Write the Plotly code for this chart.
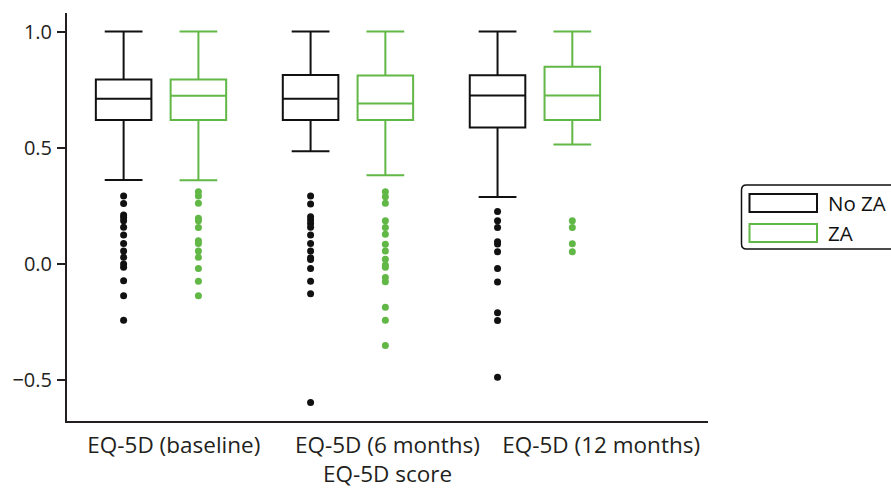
import plotly.graph_objects as go

# ---------------- data ----------------
groups = ["EQ-5D (baseline)", "EQ-5D (6 months)", "EQ-5D (12 months)"]

noza_q1 = [0.619, 0.619, 0.586]
noza_median = [0.710, 0.710, 0.724]
noza_q3 = [0.793, 0.813, 0.812]
noza_lower = [0.360, 0.484, 0.287]
noza_upper = [1.0, 1.0, 1.0]

za_q1 = [0.619, 0.619, 0.619]
za_median = [0.723, 0.690, 0.724]
za_q3 = [0.793, 0.811, 0.848]
za_lower = [0.359, 0.381, 0.513]
za_upper = [1.0, 1.0, 1.0]

noza_outliers = [
    [0.291, 0.259, 0.209, 0.199, 0.184, 0.156, 0.123, 0.087, 0.054, 0.027,
     -0.002, -0.016, -0.074, -0.139, -0.244],
    [0.291, 0.257, 0.202, 0.188, 0.173, 0.156, 0.123, 0.087, 0.054, 0.025,
     0.018, -0.021, -0.076, -0.130, -0.599],
    [0.224, 0.185, 0.155, 0.094, 0.084, 0.051, -0.021, -0.079, -0.212,
     -0.245, -0.490],
]
za_outliers = [
    [0.310, 0.291, 0.260, 0.195, 0.185, 0.155, 0.098, 0.087, 0.054, 0.027,
     -0.021, -0.076, -0.139],
    [0.310, 0.288, 0.260, 0.185, 0.155, 0.126, 0.083, 0.054, 0.019, -0.006,
     -0.016, -0.060, -0.078, -0.188, -0.244, -0.353],
    [0.185, 0.155, 0.085, 0.051],
]

series_names = ["No ZA", "ZA"]
y_tick_values = [-0.5, 0.0, 0.5, 1.0]
x_title = "EQ-5D score"

# ---------------- style / layout constants ----------------
BLACK = "#111111"
GREEN = "#62b846"
FONT = "Open Sans"
GROUP_SPACING = 0.875
GROUP_SHIFT = -0.06
BOX_OFFSET = 0.175
BOX_WIDTH = 0.26

W, H = 891, 489
PL, PR, PT, PB = 67, 708, 13, 421


def px_x(px):
    return (px - PL) / (PR - PL)


def px_y(py):
    return (PB - py) / (PB - PT)


fig = go.Figure()

series = [
    (series_names[0], BLACK, -BOX_OFFSET, noza_q1, noza_median, noza_q3,
     noza_lower, noza_upper, noza_outliers),
    (series_names[1], GREEN, BOX_OFFSET, za_q1, za_median, za_q3,
     za_lower, za_upper, za_outliers),
]

for name, color, off, q1, med, q3, lo, up, outs in series:
    xs = [GROUP_SHIFT + GROUP_SPACING * i + off for i in range(len(groups))]
    fig.add_trace(go.Box(
        x=xs, q1=q1, median=med, q3=q3, lowerfence=lo, upperfence=up,
        name=name, boxpoints=False, width=BOX_WIDTH, whiskerwidth=0.68,
        line=dict(color=color, width=2), fillcolor="rgba(0,0,0,0)",
        showlegend=False, hoverinfo="skip",
    ))
    ox, oy = [], []
    for i, vals in enumerate(outs):
        ox += [xs[i]] * len(vals)
        oy += vals
    fig.add_trace(go.Scatter(
        x=ox, y=oy, mode="markers", showlegend=False,
        marker=dict(color=color, size=7, line=dict(width=0)),
        hoverinfo="skip",
    ))

# ---------------- custom legend ----------------
shapes = []
lx0, lx1, ly0, ly1, r = 741.5, 905, 185, 249, 5
rx, ry = r / (PR - PL), r / (PB - PT)
X0, X1, Y0, Y1 = px_x(lx0), px_x(lx1), px_y(ly0), px_y(ly1)
path = (f"M{X0+rx},{Y0} L{X1-rx},{Y0} Q{X1},{Y0} {X1},{Y0-ry} "
        f"L{X1},{Y1+ry} Q{X1},{Y1} {X1-rx},{Y1} L{X0+rx},{Y1} "
        f"Q{X0},{Y1} {X0},{Y1+ry} L{X0},{Y0-ry} Q{X0},{Y0} {X0+rx},{Y0} Z")
shapes.append(dict(type="path", xref="paper", yref="paper", path=path,
                   line=dict(color=BLACK, width=1.5)))
annotations = []
for k, (name, color) in enumerate(zip(series_names, [BLACK, GREEN])):
    cy = 203 + 30 * k
    shapes.append(dict(type="rect", xref="paper", yref="paper",
                       x0=px_x(749.5), x1=px_x(817), y0=px_y(cy - 9), y1=px_y(cy + 9),
                       line=dict(color=color, width=2)))
    annotations.append(dict(xref="paper", yref="paper", x=px_x(826), y=px_y(cy),
                            xanchor="left", yanchor="middle", text=name,
                            showarrow=False, font=dict(size=20.5, color=BLACK, family=FONT)))

cat_pos = [i for i in range(len(groups))]

fig.update_layout(
    width=W, height=H,
    margin=dict(l=PL, r=W - PR, t=PT, b=H - PB),
    paper_bgcolor="white", plot_bgcolor="white",
    font=dict(family=FONT, size=20, color="#231f20"),
    shapes=shapes, annotations=annotations,
    xaxis=dict(
        range=[-0.5, 2.5], tickvals=cat_pos, ticktext=groups,
        showgrid=False, zeroline=False, showline=True, automargin=False,
        linecolor="#231f20", linewidth=2, ticks="",
        tickfont=dict(size=22.5), ticklabelstandoff=3,
        title=dict(text=x_title, font=dict(size=22.5), standoff=0),
    ),
    yaxis=dict(
        range=[-0.6785, 1.0799], tickvals=y_tick_values, tickformat=".1f",
        showgrid=False, zeroline=False, showline=True, automargin=False,
        linecolor="#231f20", linewidth=2, ticks="outside", ticklen=8,
        tickwidth=1.5, tickcolor="#231f20", tickfont=dict(size=20),
        ticklabelstandoff=1,
    ),
)

fig.write_html("out.html", config={"displayModeBar": False},
               post_script="document.body.style.margin='0';")
